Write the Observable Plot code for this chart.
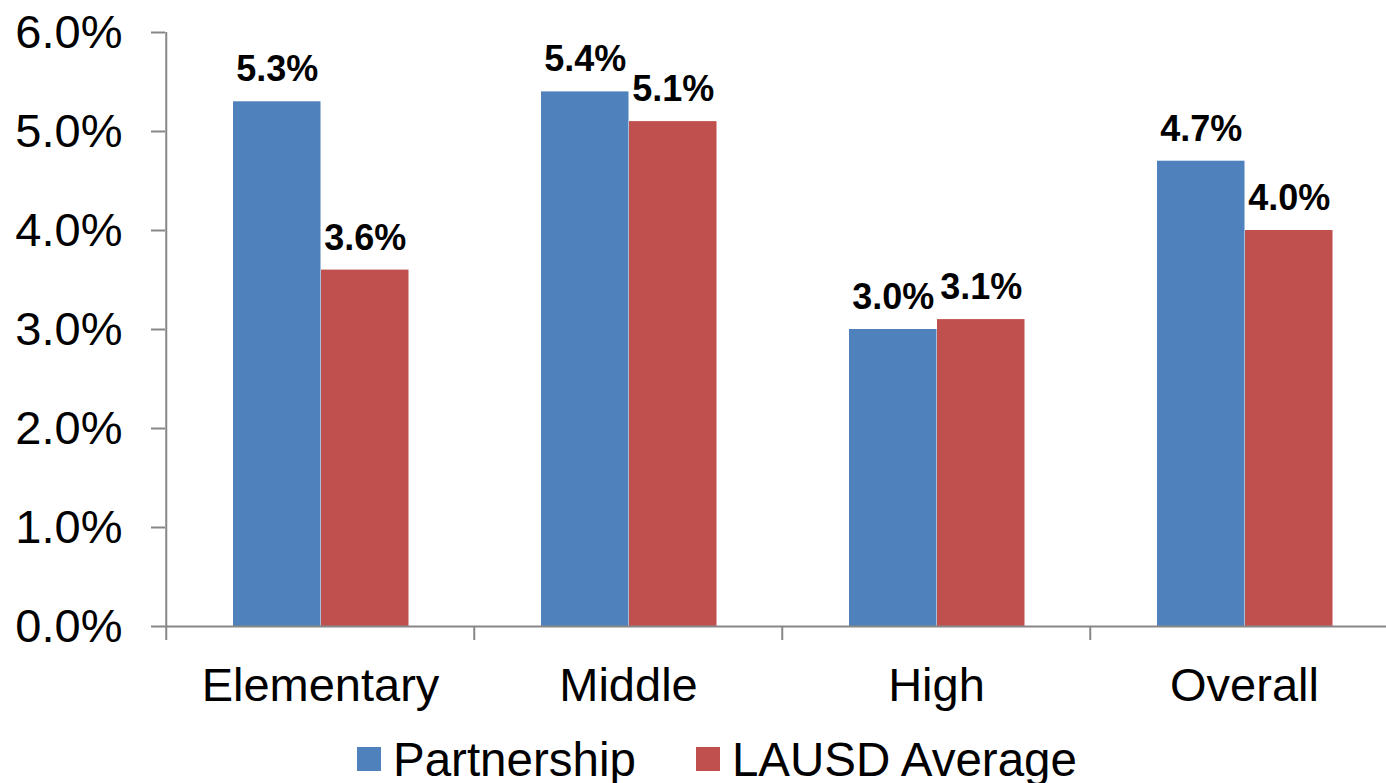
<!DOCTYPE html>
<html>
<head>
<meta charset="utf-8">
<script src="https://cdn.jsdelivr.net/npm/d3@7"></script>
<script src="https://cdn.jsdelivr.net/npm/@observablehq/plot@0.6"></script>
<style>
  html, body { margin: 0; padding: 0; background: #fff; }
  body { width: 1386px; height: 783px; overflow: hidden; font-family: "Liberation Sans", Arial, sans-serif; }
  #legend { display: flex; align-items: center; height: 48px; padding-left: 357px; font-size: 47.5px; color: #000; }
  #legend .item { display: flex; align-items: center; margin-right: 60px; }
  #legend .sw { width: 24px; height: 24px; margin-right: 12px; }
</style>
</head>
<body>
<div id="chart"></div>
<div id="legend"></div>
<script>
const categories = ["Elementary", "Middle", "High", "Overall"];
const seriesNames = ["Partnership", "LAUSD Average"];
const partnership = [5.3, 5.4, 3.0, 4.7];
const lausd = [3.6, 5.1, 3.1, 4.0];
const yTicks = [0, 1, 2, 3, 4, 5, 6];
const colors = ["#4F81BD", "#C0504D"];

const rows = categories.map((c, i) => ({category: c, partnership: partnership[i], lausd: lausd[i]}));
const fmt = v => v.toFixed(1) + "%";
const axisGray = "#878787";

const chart = Plot.plot({
  width: 1386,
  height: 735,
  marginLeft: 165,
  marginRight: 0,
  marginTop: 32,
  marginBottom: 109,
  x: {domain: categories, range: [165, 1399], padding: 0, label: null},
  y: {domain: [0, 6], range: [626, 32], label: null},
  style: {fontFamily: "'Liberation Sans', Arial, sans-serif", background: "white", color: "black"},
  marks: [
    Plot.barY(rows, {x: "category", y: "partnership", fill: colors[0], insetLeft: 67, insetRight: 153.5}),
    Plot.barY(rows, {x: "category", y: "lausd", fill: colors[1], insetLeft: 155, insetRight: 65.5}),
    Plot.text(rows, {x: "category", y: "partnership", text: d => fmt(d.partnership), dx: -43.25, dy: -32, fontSize: 36, fontWeight: "bold", fill: "black"}),
    Plot.text(rows, {x: "category", y: "lausd", text: d => fmt(d.lausd), dx: 44.75, dy: -32, fontSize: 36, fontWeight: "bold", fill: "black"}),
    Plot.ruleY([0], {stroke: axisGray, strokeWidth: 2}),
    Plot.tickX(categories.slice(0, 1), {x: d => d, dx: -154.25, stroke: axisGray, strokeWidth: 2}),
    Plot.axisY(yTicks, {tickFormat: fmt, tickSize: 14, tickPadding: 29, fontSize: 47, stroke: axisGray, strokeWidth: 2, fill: "black", label: null}),
    Plot.axisX({tickSize: 14, dx: -154.25, tickFormat: () => "", stroke: axisGray, strokeWidth: 2, label: null}),
    Plot.axisX({tickSize: 0, tickPadding: 41, fontSize: 47, fill: "black", label: null})
  ]
});
document.getElementById("chart").appendChild(chart);

const legend = document.getElementById("legend");
seriesNames.forEach((name, i) => {
  const item = document.createElement("div");
  item.className = "item";
  const sw = document.createElement("div");
  sw.className = "sw";
  sw.style.background = colors[i];
  const label = document.createElement("span");
  label.textContent = name;
  item.appendChild(sw);
  item.appendChild(label);
  legend.appendChild(item);
});
</script>
</body>
</html>
